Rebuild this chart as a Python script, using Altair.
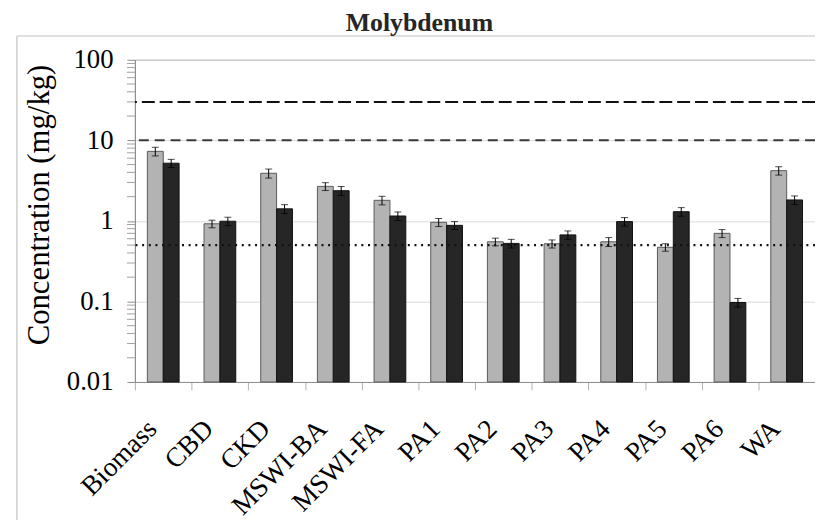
import altair as alt
import pandas as pd

categories = ["Biomass", "CBD", "CKD", "MSWI-BA", "MSWI-FA", "PA1", "PA2",
              "PA3", "PA4", "PA5", "PA6", "WA"]
series_names = ["Series 1", "Series 2"]
grey_vals = [7.3, 0.92, 3.9, 2.68, 1.8, 0.96, 0.55, 0.52, 0.55, 0.47, 0.70, 4.2]
black_vals = [5.2, 0.99, 1.41, 2.37, 1.15, 0.88, 0.525, 0.67, 0.98, 1.30, 0.097, 1.82]
grey_err = [0.9, 0.1, 0.5, 0.3, 0.22, 0.11, 0.06, 0.06, 0.07, 0.05, 0.08, 0.5]
black_err = [0.6, 0.12, 0.18, 0.3, 0.14, 0.1, 0.065, 0.08, 0.12, 0.16, 0.012, 0.22]
ref_long = [30]
ref_mid = [10]
ref_dot = [0.5]
major_ticks = [0.01, 0.1, 1, 10, 100]
minor_ticks = [m * d for d in [0.01, 0.1, 1, 10] for m in range(2, 10)]
chart_title = ["Molybdenum"]

rows = []
for i, c in enumerate(categories):
    rows.append({"cat": c, "series": series_names[0], "v": grey_vals[i],
                 "lo": grey_vals[i] - grey_err[i], "hi": grey_vals[i] + grey_err[i]})
    rows.append({"cat": c, "series": series_names[1], "v": black_vals[i],
                 "lo": black_vals[i] - black_err[i], "hi": black_vals[i] + black_err[i]})
df = pd.DataFrame(rows)

FONT = "Liberation Serif"
W, H = 686, 325

yscale = alt.Scale(type="log", domain=[0.01, 100])
xscale = alt.Scale(paddingInner=0, paddingOuter=0)
xoff_scale = alt.Scale(domain=series_names, paddingInner=0, paddingOuter=0.786)
color_scale = alt.Scale(domain=series_names, range=["#b3b3b3", "#262626"])
stroke_scale = alt.Scale(domain=series_names, range=["#5a5a5a", "#111111"])

x_axis = alt.Axis(labelAngle=-45, labelAlign="right", labelBaseline="top",
                  labelFontSize=27.5, tickBand="extent", tickSize=8, tickColor="#b0b0b0",
                  labelPadding=25, labelOffset=-21, grid=False)
y_axis = alt.Axis(values=major_ticks, format="~g", tickSize=8, labelPadding=14,
                  titleX=-96, titleY=146, titleAngle=-90, titleAlign="center",
                  titleBaseline="middle")
YT = "Concentration (mg/kg)"

base = alt.Chart(df)
X = alt.X("cat:N", sort=categories, scale=xscale, title=None, axis=x_axis)
XO = alt.XOffset("series:N", scale=xoff_scale, sort=series_names)

bars = base.mark_bar(strokeWidth=1).encode(
    x=X, xOffset=XO,
    y=alt.Y("v:Q", scale=yscale, title=YT, axis=y_axis),
    y2=alt.datum(0.01),
    color=alt.Color("series:N", scale=color_scale, legend=None),
    stroke=alt.Stroke("series:N", scale=stroke_scale, legend=None),
)

err = base.mark_rule(color="#000000", strokeWidth=1).encode(
    x=X, xOffset=XO,
    y=alt.Y("lo:Q", scale=yscale, title=YT, axis=y_axis),
    y2="hi:Q",
)
cap_lo = base.mark_tick(color="#000000", thickness=1, size=7, orient="horizontal").encode(
    x=X, xOffset=XO,
    y=alt.Y("lo:Q", scale=yscale, title=YT, axis=y_axis),
)
cap_hi = base.mark_tick(color="#000000", thickness=1, size=7, orient="horizontal").encode(
    x=X, xOffset=XO,
    y=alt.Y("hi:Q", scale=yscale, title=YT, axis=y_axis),
)

line_long = alt.Chart(pd.DataFrame({"y": ref_long})).mark_rule(
    color="#111111", strokeWidth=2, strokeDash=[13, 5]).encode(
    y=alt.Y("y:Q", scale=yscale, title=YT, axis=y_axis))
line_mid = alt.Chart(pd.DataFrame({"y": ref_mid})).mark_rule(
    color="#3a3a3a", strokeWidth=2, strokeDash=[10, 6]).encode(
    y=alt.Y("y:Q", scale=yscale, title=YT, axis=y_axis))
line_dot = alt.Chart(pd.DataFrame({"y": ref_dot})).mark_rule(
    color="#111111", strokeWidth=2.2, strokeDash=[2, 4.7]).encode(
    y=alt.Y("y:Q", scale=yscale, title=YT, axis=y_axis))

minor = alt.Chart(pd.DataFrame({"t": minor_ticks})).mark_rule(
    color="#a0a0a0", strokeWidth=1).encode(
    y=alt.Y("t:Q", scale=yscale, title=YT, axis=y_axis),
    x=alt.value(-8), x2=alt.value(0))

frame_top = alt.Chart(pd.DataFrame({"a": [0]})).mark_rule(
    color="#c0c0c0", strokeWidth=1.2).encode(
    x=alt.value(-119), x2=alt.value(W + 10), y=alt.value(-24))
frame_left = alt.Chart(pd.DataFrame({"a": [0]})).mark_rule(
    color="#c0c0c0", strokeWidth=1.2).encode(
    x=alt.value(-119), y=alt.value(-24), y2=alt.value(H + 200))

title_mark = alt.Chart(pd.DataFrame({"t": chart_title})).mark_text(
    font=FONT, fontSize=26, fontWeight="bold", color="#262626",
    baseline="alphabetic", align="center").encode(
    text="t:N", x=alt.value(287), y=alt.value(-29))

chart = alt.layer(
    frame_top, frame_left, bars, err, cap_lo, cap_hi,
    line_long, line_mid, line_dot, minor, title_mark
).properties(
    width=W, height=H,
    padding={"left": 128, "top": 50, "right": 0, "bottom": 137},
    autosize=alt.AutoSizeParams(type="none"),
    background="white",
).configure_view(
    stroke="#8c8c8c", strokeWidth=1
).configure_axis(
    labelFont=FONT, labelFontSize=27, labelColor="#000000",
    titleFont=FONT, titleFontSize=31, titleFontWeight="normal", titleColor="#000000",
    domainColor="#8c8c8c", tickColor="#8c8c8c", gridColor="#dadada",
    labelOverlap=False, labelLimit=0
)

chart.save("out.html", embed_options={"renderer": "svg", "actions": False})
